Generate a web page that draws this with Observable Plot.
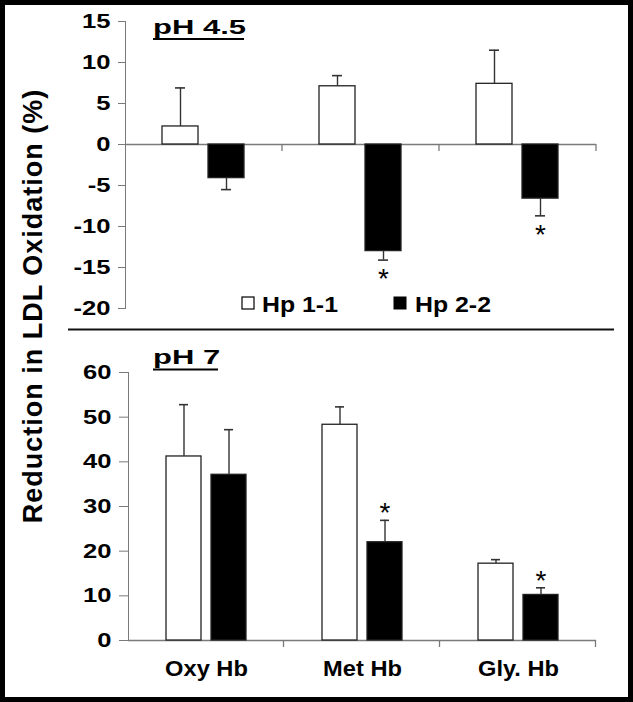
<!DOCTYPE html>
<html><head><meta charset="utf-8">
<script src="https://cdn.jsdelivr.net/npm/d3@7"></script>
<script src="https://cdn.jsdelivr.net/npm/@observablehq/plot@0.6"></script>
<style>
body{margin:0;background:#fff}
#wrap{position:relative;width:633px;height:702px;background:#fff;overflow:hidden;font-family:'Liberation Sans',Arial,sans-serif}
#top,#bot,#ann,#frame{position:absolute;left:0}
#top{top:0}
#bot{top:330px}
#ann{top:0;pointer-events:none}
#frame{top:0;width:633px;height:702px;box-sizing:border-box;border:5px solid #000;pointer-events:none}
</style>
</head><body>
<div id="wrap"><div id="top"></div><div id="bot"></div><svg id="ann" width="633" height="702"></svg><div id="frame"></div></div>
<script>
const categories = ["Oxy Hb", "Met Hb", "Gly. Hb"];
const groups = ["Hp 1-1", "Hp 2-2"];
const groupColors = ["#ffffff", "#000000"];
const ph45Hp11 = [2.2, 7.1, 7.4];
const ph45Hp11Err = [4.7, 1.3, 4.1];
const ph45Hp22 = [-4.1, -13.0, -6.6];
const ph45Hp22Err = [1.4, 1.1, 2.1];
const ph45Hp22Sig = [false, true, true];
const ph7Hp11 = [41.2, 48.3, 17.2];
const ph7Hp11Err = [11.6, 4.0, 0.9];
const ph7Hp22 = [37.1, 22.0, 10.2];
const ph7Hp22Err = [10.1, 4.9, 1.6];
const ph7Hp22Sig = [false, true, true];
const ph45Ticks = [-20, -15, -10, -5, 0, 5, 10, 15];
const ph7Ticks = [0, 10, 20, 30, 40, 50, 60];
const titles = ["pH 4.5", "pH 7"];
const yLabel = "Reduction in LDL Oxidation (%)";

function rows(v1, e1, v2, e2, s2) {
  const out = [];
  categories.forEach((c, i) => {
    out.push({cat: c, group: groups[0], value: v1[i], err: e1[i], sig: false});
    out.push({cat: c, group: groups[1], value: v2[i], err: e2[i], sig: s2[i]});
  });
  out.forEach(d => d.end = d.value + Math.sign(d.value) * d.err);
  return out;
}

function panel(data, o) {
  const plot = Plot.plot({
    width: 633, height: o.height, marginTop: o.marginTop, marginBottom: o.marginBottom,
    marginLeft: o.marginLeft, marginRight: 37,
    style: {fontFamily: "'Liberation Sans', Arial, sans-serif", fontSize: "20px", fontWeight: "bold", background: "transparent", color: "#7a7a7a"},
    fx: {domain: categories, padding: 0, axis: o.showFx ? "bottom" : null, label: null, tickSize: 0, tickPadding: 20},
    x: {domain: groups, paddingInner: 0.217, paddingOuter: 0.815, axis: null},
    y: {domain: o.domain, ticks: o.ticks, tickFormat: d => String(d), tickSize: o.tickSize, tickPadding: 8, label: null, line: true},
    color: {domain: groups, range: groupColors},
    marks: [
      Plot.ruleY([0], {stroke: "#7a7a7a", strokeWidth: 1.3}),
      Plot.barY(data, {fx: "cat", x: "group", y: "value", fill: "group", stroke: "#222", strokeWidth: 1.3}),
      Plot.ruleX(data, {fx: "cat", x: "group", y1: "value", y2: "end", stroke: "#333", strokeWidth: 1.4}),
      Plot.tickY(data, {fx: "cat", x: "group", y: "end", stroke: "#333", strokeWidth: 1.6, insetLeft: 13, insetRight: 13}),
      Plot.text(data.filter(d => d.sig), {fx: "cat", x: "group", y: "end", text: () => "*", fontSize: 28, fontWeight: "normal", dy: o.starDy, fill: "#000"})
    ]
  });
  const svg = d3.select(plot);
  svg.selectAll("text").attr("fill", "#000");
  svg.selectAll("text").each(function() {
    const t = this.textContent.trim();
    const tr = this.getAttribute("transform") || "";
    if (categories.includes(t)) {
      this.setAttribute("font-size", "21.5");
      this.style.fontSize = "21.5px";
      this.setAttribute("transform", tr + " scale(1.1,1)");
    } else if (t !== "*" && t !== "" && !isNaN(+t)) {
      this.setAttribute("transform", tr + " scale(1.28,1)");
    }
  });
  // category boundary ticks from the fx scale
  const fx = plot.scale("fx"), y = plot.scale("y");
  const n = fx.domain.length;
  const span = fx.range[1] - fx.range[0];
  const x0 = fx.range[0] + (span - fx.step * n) / 2;
  const y0 = y.range[0] + (0 - y.domain[0]) / (y.domain[1] - y.domain[0]) * (y.range[1] - y.range[0]);
  svg.append("g").selectAll("line").data(d3.range(1, n + 1)).join("line")
    .attr("x1", i => x0 + i * fx.step).attr("x2", i => x0 + i * fx.step)
    .attr("y1", y0).attr("y2", y0 + 7).attr("stroke", "#7a7a7a").attr("stroke-width", 1.3);
  return plot;
}

document.getElementById("top").appendChild(panel(rows(ph45Hp11, ph45Hp11Err, ph45Hp22, ph45Hp22Err, ph45Hp22Sig), {
  height: 330, marginTop: 21, marginBottom: 22, marginLeft: 125, tickSize: 7,
  domain: [-20, 15], ticks: ph45Ticks, showFx: false, starDy: 19
}));
document.getElementById("bot").appendChild(panel(rows(ph7Hp11, ph7Hp11Err, ph7Hp22, ph7Hp22Err, ph7Hp22Sig), {
  height: 372, marginTop: 42, marginBottom: 62, marginLeft: 127, tickSize: 9,
  domain: [0, 60], ticks: ph7Ticks, showFx: true, starDy: -7
}));

// annotations: titles, legend, separator, y label
const ann = d3.select("#ann").style("font-family", "'Liberation Sans', Arial, sans-serif").style("font-weight", "bold");
function title(txt, x, base, w) {
  ann.append("text").attr("transform", `translate(${x},${base}) scale(1.55,1)`).attr("font-size", 20).text(txt);
  ann.append("line").attr("x1", x).attr("x2", x + w).attr("y1", base + 5.5).attr("y2", base + 5.5).attr("stroke", "#000").attr("stroke-width", 2.2);
}
title(titles[0], 153, 33.5, 91);
title(titles[1], 153, 364, 65);
ann.append("rect").attr("x", 242).attr("y", 297).attr("width", 12).attr("height", 12).attr("fill", groupColors[0]).attr("stroke", "#000").attr("stroke-width", 1.2);
ann.append("text").attr("transform", "translate(262,311.5) scale(1.13,1)").attr("font-size", 22).text(groups[0]);
ann.append("rect").attr("x", 393.5).attr("y", 296.5).attr("width", 13).attr("height", 13).attr("fill", groupColors[1]);
ann.append("text").attr("transform", "translate(415,311.5) scale(1.13,1)").attr("font-size", 22).text(groups[1]);
ann.append("line").attr("x1", 68).attr("x2", 614).attr("y1", 329.5).attr("y2", 329.5).attr("stroke", "#111").attr("stroke-width", 2.2);
ann.append("text").attr("transform", "translate(41.5,306) rotate(-90)").attr("text-anchor", "middle").attr("font-size", 27).attr("letter-spacing", 1).text(yLabel);
</script>
</body></html>
